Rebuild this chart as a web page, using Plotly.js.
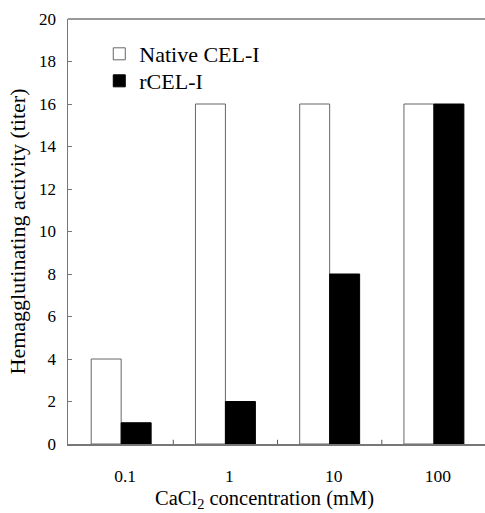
<!DOCTYPE html>
<html>
<head>
<meta charset="utf-8">
<script src="https://cdn.plot.ly/plotly-3.0.1.min.js"></script>
<style>html,body{margin:0;padding:0;background:#fff;}#chart{width:485px;height:513px;}</style>
</head>
<body>
<div id="chart"></div>
<script>
const categories = ["0.1", "1", "10", "100"];
const nativeValues = [4, 16, 16, 16];
const recombinantValues = [1, 2, 8, 16];
const seriesNames = ["Native CEL-I", "rCEL-I"];
const yTicks = [0, 2, 4, 6, 8, 10, 12, 14, 16, 18, 20];
const xTitle = "CaCl<sub>2</sub> concentration (mM)";
const yTitle = "Hemagglutinating activity (titer)";

const font = "'Liberation Serif', 'Times New Roman', serif";

const traces = [
  {type: "bar", name: seriesNames[0], x: categories, y: nativeValues, legend: "legend",
   marker: {color: "#ffffff", line: {color: "#666666", width: 1}}},
  {type: "bar", name: seriesNames[1], x: categories, y: recombinantValues, legend: "legend2",
   marker: {color: "#000000", line: {color: "#000000", width: 1}}}
];

const legendBase = {xanchor: "left", yanchor: "top", bgcolor: "rgba(0,0,0,0)",
  font: {family: font, size: 22, color: "#000"}, itemwidth: 30};

const layout = {
  width: 485, height: 513,
  margin: {l: 68, r: 0, t: 19, b: 69},
  paper_bgcolor: "#ffffff", plot_bgcolor: "#ffffff",
  font: {family: font, size: 17, color: "#000"},
  barmode: "group", bargap: 0.425, bargroupgap: 0,
  showlegend: true,
  legend: Object.assign({x: 0.075, y: 0.967}, legendBase),
  legend2: Object.assign({x: 0.075, y: 0.9035}, legendBase),
  xaxis: {
    type: "category", range: [-0.51, 3.49],
    showline: true, linecolor: "#777777", linewidth: 1.5, mirror: false,
    ticks: "", showgrid: false, zeroline: false,
    tickfont: {family: font, size: 17.5, color: "#000"},
    ticklabelstandoff: 15, ticklabelshift: 4
  },
  yaxis: {
    range: [0, 20], tickvals: yTicks, ticktext: yTicks.map(String),
    showline: true, linecolor: "#777777", linewidth: 1.5,
    ticks: "inside", ticklen: 4, tickcolor: "#777777", tickwidth: 1,
    showgrid: false, zeroline: false,
    tickfont: {family: font, size: 17, color: "#000"},
    ticklabelstandoff: 7,
    title: {text: yTitle, font: {family: font, size: 22, color: "#000"}, standoff: 7}
  },
  annotations: [
    {text: xTitle, xref: "paper", yref: "paper", x: 0.5, y: 0, xshift: -12, yshift: -55,
     xanchor: "center", yanchor: "middle", showarrow: false,
     font: {family: font, size: 20.5, color: "#000"}}
  ],
  shapes: [
    {type: "line", xref: "paper", yref: "paper", x0: 0, x1: 1, y0: 1, y1: 1,
     line: {color: "#777777", width: 1.5}},
    ...[0.5, 1.5, 2.5].map(v => ({type: "line", xref: "x", yref: "y", x0: v, x1: v, y0: 0, y1: 0.2,
     line: {color: "#555555", width: 1}}))
  ]
};

Plotly.newPlot("chart", traces, layout, {staticPlot: true, displayModeBar: false});
</script>
</body>
</html>
